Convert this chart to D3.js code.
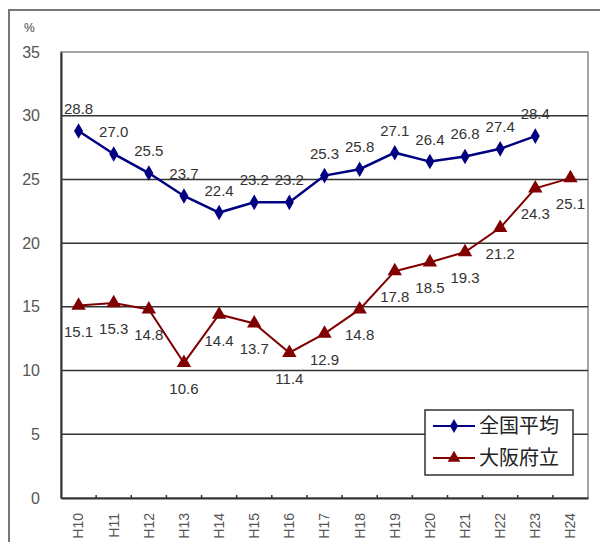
<!DOCTYPE html>
<html><head><meta charset="utf-8">
<script src="https://cdn.jsdelivr.net/npm/d3@7"></script>
<style>body{margin:0;background:#fff}svg{display:block}</style>
</head><body>
<script>
const categories = ["H10","H11","H12","H13","H14","H15","H16","H17","H18","H19","H20","H21","H22","H23","H24"];
const national = [28.8,27.0,25.5,23.7,22.4,23.2,23.2,25.3,25.8,27.1,26.4,26.8,27.4,28.4];
const osaka = [15.1,15.3,14.8,10.6,14.4,13.7,11.4,12.9,14.8,17.8,18.5,19.3,21.2,24.3,25.1];
const yTicks = [0,5,10,15,20,25,30,35];
const seriesNames = ["全国平均","大阪府立"];

const W=600,H=542;
const svg=d3.select("body").append("svg").attr("width",W).attr("height",H);
const font="'Liberation Sans', Arial, sans-serif";
const cjk="'Noto Sans CJK JP', sans-serif";

// outer frame
svg.append("rect").attr("x",9).attr("y",10).attr("width",640).attr("height",600)
  .attr("fill","none").attr("stroke","#777").attr("stroke-width",2);

const L=61,R=588,T=52,B=498;
const x=d3.scaleBand().domain(categories).range([L,R]);
const y=d3.scaleLinear().domain([0,35]).range([B,T]);

// plot border
svg.append("rect").attr("x",L).attr("y",T).attr("width",R-L).attr("height",B-T)
  .attr("fill","#fff").attr("stroke","#888").attr("stroke-width",1.5);

// grid
svg.append("g").selectAll("line").data(yTicks.filter(d=>d>0&&d<35)).join("line")
  .attr("x1",L).attr("x2",R).attr("y1",d=>y(d)).attr("y2",d=>y(d))
  .attr("stroke","#333").attr("stroke-width",1.5);

// y axis
const ya=svg.append("g").attr("transform",`translate(${L},0)`)
  .call(d3.axisLeft(y).tickValues(yTicks).tickSize(0).tickPadding(21));
ya.select(".domain").attr("stroke","#333").attr("stroke-width",2);
ya.selectAll("text").attr("font-family",font).attr("font-size",16).attr("fill","#555");

// x axis
const xa=svg.append("g").attr("transform",`translate(0,${B})`)
  .call(d3.axisBottom(x).tickSize(0));
xa.select(".domain").attr("stroke","#333").attr("stroke-width",2);
xa.selectAll(".tick text").attr("font-family",font).attr("font-size",14).attr("fill","#555")
  .attr("transform","rotate(-90)").attr("text-anchor","end").attr("x",-15).attr("y",0).attr("dy","0.35em");
// small tick marks between categories
svg.append("g").selectAll("line").data(categories.slice(1)).join("line")
  .attr("x1",d=>x(d)).attr("x2",d=>x(d)).attr("y1",B-3).attr("y2",B+1)
  .attr("stroke","#333").attr("stroke-width",1.5);

svg.append("text").attr("x",24).attr("y",32).attr("font-family",font).attr("font-size",12)
  .attr("fill","#444").text("%");

const cx=(i)=>x(categories[i])+x.bandwidth()/2;
const line=d3.line().x((d,i)=>cx(i)).y(d=>y(d));

const blue="#000080", red="#800000";
// osaka
svg.append("path").datum(osaka).attr("d",line).attr("fill","none").attr("stroke",red).attr("stroke-width",2);
const tri=d3.symbol().type(d3.symbolTriangle).size(90);
svg.append("g").selectAll("path").data(osaka).join("path")
  .attr("d",tri).attr("transform",(d,i)=>`translate(${cx(i)},${y(d)})`).attr("fill",red);
// national
svg.append("path").datum(national).attr("d",line).attr("fill","none").attr("stroke",blue).attr("stroke-width",2.5);
const dia=d3.symbol().type(d3.symbolDiamond).size(70);
svg.append("g").selectAll("path").data(national).join("path")
  .attr("d",dia).attr("transform",(d,i)=>`translate(${cx(i)},${y(d)})`).attr("fill",blue);

// labels
svg.append("g").selectAll("text").data(national).join("text")
  .attr("x",(d,i)=>cx(i)).attr("y",d=>y(d)-17).attr("text-anchor","middle")
  .attr("font-family",font).attr("font-size",15).attr("fill","#333").text(d=>d.toFixed(1));
svg.append("g").selectAll("text").data(osaka).join("text")
  .attr("x",(d,i)=>cx(i)).attr("y",d=>y(d)+31).attr("text-anchor","middle")
  .attr("font-family",font).attr("font-size",15).attr("fill","#333").text(d=>d.toFixed(1));

// legend
const lg=svg.append("g");
lg.append("rect").attr("x",425).attr("y",410).attr("width",148).attr("height",65)
  .attr("fill","#fff").attr("stroke","#333").attr("stroke-width",1.5);
const items=[{c:blue,s:d3.symbol().type(d3.symbolDiamond).size(55)},{c:red,s:d3.symbol().type(d3.symbolTriangle).size(70)}];
items.forEach((it,k)=>{
  const yy=426+k*32;
  lg.append("line").attr("x1",433).attr("x2",475).attr("y1",yy).attr("y2",yy).attr("stroke",it.c).attr("stroke-width",2);
  lg.append("path").attr("d",it.s).attr("transform",`translate(454,${yy})`).attr("fill",it.c);
  lg.append("text").attr("x",479).attr("y",yy).attr("dy","0.35em").attr("font-family",cjk)
    .attr("font-size",20).attr("fill","#222").text(seriesNames[k]);
});
</script>
</body></html>
